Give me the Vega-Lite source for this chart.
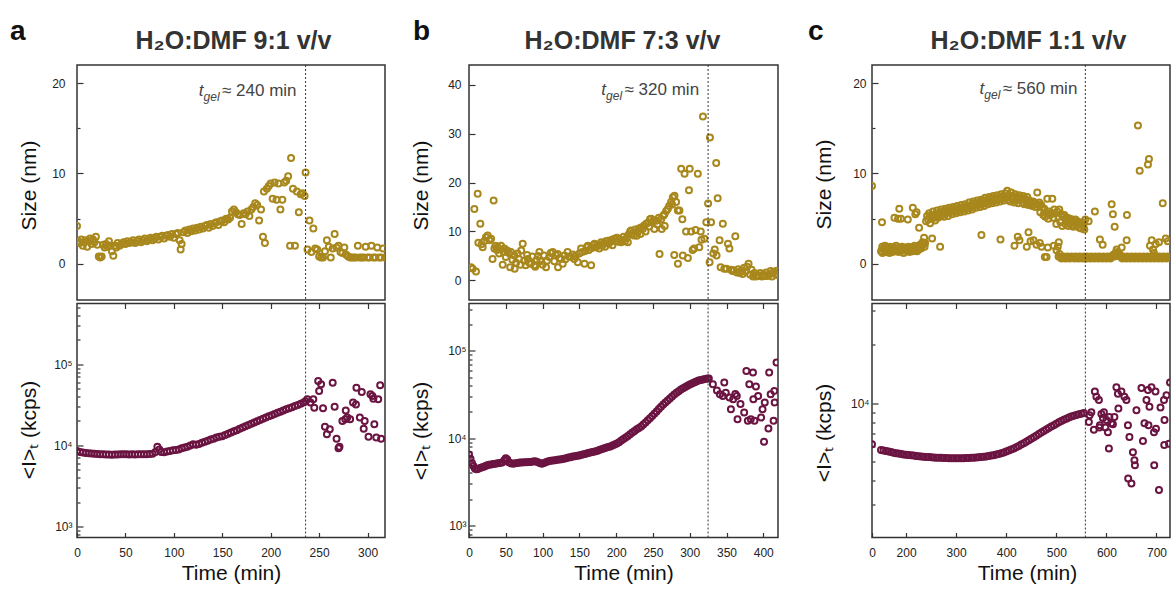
{
"$schema": "https://vega.github.io/schema/vega-lite/v6.json",
"padding": {"left": 9, "top": 17, "right": 0, "bottom": 0},
"background": "white",
"datasets": {
"gel": [{"p":"a","t":236,"s":18.6,"lab":"≈ 240 min"},{"p":"b","t":325,"s":37.8,"lab":"≈ 320 min"},{"p":"c","t":558,"s":18.8,"lab":"≈ 560 min"}],
"aSize": [{"t":0,"s":4.2},{"t":1.5,"s":2.5},{"t":3,"s":2.3},{"t":4.5,"s":2.7},{"t":6,"s":2.0},{"t":7.5,"s":2.4},{"t":9,"s":2.6},{"t":10.5,"s":1.9},{"t":12,"s":2.5},{"t":13.5,"s":2.8},{"t":15,"s":2.2},{"t":16.5,"s":2.7},{"t":18,"s":2.4},{"t":19.5,"s":3.0},{"t":21,"s":2.1},{"t":22.5,"s":0.8},{"t":24,"s":0.7},{"t":25.5,"s":0.8},{"t":27,"s":2.1},{"t":28.5,"s":1.8},{"t":30,"s":2.2},{"t":31.5,"s":1.9},{"t":33,"s":2.5},{"t":34.5,"s":2.0},{"t":36,"s":1.4},{"t":37.5,"s":0.9},{"t":39,"s":2.0},{"t":40.5,"s":1.8},{"t":42,"s":2.3},{"t":44,"s":2.0},{"t":46,"s":2.2},{"t":48,"s":2.4},{"t":50,"s":2.2},{"t":52,"s":2.5},{"t":54,"s":2.3},{"t":56,"s":2.4},{"t":58,"s":2.6},{"t":60,"s":2.3},{"t":62,"s":2.5},{"t":64,"s":2.7},{"t":66,"s":2.4},{"t":68,"s":2.6},{"t":70,"s":2.8},{"t":72,"s":2.5},{"t":74,"s":2.7},{"t":76,"s":2.9},{"t":78,"s":2.6},{"t":80,"s":2.8},{"t":82,"s":3.0},{"t":84,"s":2.7},{"t":86,"s":3.0},{"t":88,"s":3.1},{"t":90,"s":2.8},{"t":92,"s":3.1},{"t":94,"s":3.2},{"t":96,"s":3.0},{"t":98,"s":3.3},{"t":100,"s":2.9},{"t":102,"s":3.3},{"t":104,"s":3.4},{"t":106,"s":2.6},{"t":107,"s":1.6},{"t":108,"s":2.2},{"t":110,"s":3.5},{"t":112,"s":3.7},{"t":114,"s":3.4},{"t":116,"s":3.8},{"t":118,"s":3.6},{"t":120,"s":3.9},{"t":122,"s":3.7},{"t":124,"s":4.0},{"t":126,"s":3.8},{"t":128,"s":4.1},{"t":130,"s":3.9},{"t":132,"s":4.2},{"t":134,"s":4.3},{"t":136,"s":4.0},{"t":138,"s":4.4},{"t":140,"s":4.2},{"t":142,"s":4.5},{"t":144,"s":4.6},{"t":146,"s":4.3},{"t":148,"s":4.7},{"t":150,"s":4.8},{"t":152,"s":4.6},{"t":154,"s":5.0},{"t":156,"s":4.9},{"t":158,"s":5.1},{"t":160,"s":5.8},{"t":162,"s":6.0},{"t":164,"s":5.7},{"t":166,"s":5.5},{"t":168,"s":5.4},{"t":170,"s":4.4},{"t":172,"s":5.6},{"t":174,"s":5.5},{"t":176,"s":5.8},{"t":178,"s":5.3},{"t":180,"s":6.0},{"t":182,"s":6.3},{"t":184,"s":6.7},{"t":186,"s":6.5},{"t":188,"s":4.8},{"t":190,"s":6.0},{"t":192,"s":3.0},{"t":193,"s":8.0},{"t":194,"s":2.3},{"t":196,"s":8.3},{"t":198,"s":8.6},{"t":200,"s":8.9},{"t":202,"s":7.2},{"t":204,"s":9.0},{"t":206,"s":7.1},{"t":208,"s":8.9},{"t":210,"s":6.0},{"t":212,"s":7.1},{"t":214,"s":9.0},{"t":216,"s":9.2},{"t":218,"s":9.7},{"t":220,"s":2.0},{"t":221,"s":11.7},{"t":223,"s":8.3},{"t":225,"s":2.0},{"t":227,"s":8.0},{"t":229,"s":5.7},{"t":231,"s":7.7},{"t":233,"s":7.8},{"t":235,"s":7.5},{"t":236,"s":10.1},{"t":238,"s":1.6},{"t":240,"s":4.8},{"t":242,"s":1.3},{"t":244,"s":3.9},{"t":246,"s":1.7},{"t":248,"s":1.6},{"t":250,"s":0.8},{"t":252,"s":0.7},{"t":254,"s":0.7},{"t":256,"s":1.4},{"t":258,"s":2.6},{"t":260,"s":1.9},{"t":262,"s":0.7},{"t":264,"s":1.7},{"t":266,"s":3.3},{"t":268,"s":1.8},{"t":270,"s":2.0},{"t":272,"s":1.3},{"t":274,"s":1.2},{"t":276,"s":1.8},{"t":278,"s":1.0},{"t":280,"s":0.8},{"t":282,"s":0.7},{"t":284,"s":0.7},{"t":286,"s":0.7},{"t":288,"s":0.7},{"t":290,"s":2.0},{"t":292,"s":0.7},{"t":294,"s":0.7},{"t":296,"s":0.7},{"t":298,"s":1.9},{"t":300,"s":0.7},{"t":302,"s":0.7},{"t":304,"s":2.0},{"t":306,"s":0.7},{"t":308,"s":0.7},{"t":310,"s":1.8},{"t":312,"s":0.7},{"t":314,"s":0.7},{"t":316,"s":1.7},{"t":318,"s":0.7}],
"aInt": [{"t":0,"i":8500},{"t":3,"i":8300},{"t":6,"i":8150},{"t":9,"i":8050},{"t":12,"i":8000},{"t":15,"i":7950},{"t":18,"i":7900},{"t":21,"i":7850},{"t":24,"i":7800},{"t":27,"i":7750},{"t":30,"i":7700},{"t":33,"i":7700},{"t":36,"i":7650},{"t":39,"i":7700},{"t":42,"i":7700},{"t":45,"i":7750},{"t":48,"i":7800},{"t":51,"i":7750},{"t":54,"i":7700},{"t":57,"i":7750},{"t":60,"i":7700},{"t":63,"i":7750},{"t":66,"i":7800},{"t":69,"i":7750},{"t":72,"i":7800},{"t":75,"i":7850},{"t":78,"i":7900},{"t":81,"i":8300},{"t":83,"i":9600},{"t":85,"i":8900},{"t":87,"i":8300},{"t":90,"i":8200},{"t":93,"i":8400},{"t":96,"i":8500},{"t":99,"i":8700},{"t":102,"i":8800},{"t":105,"i":8900},{"t":108,"i":9200},{"t":111,"i":9400},{"t":114,"i":9600},{"t":117,"i":10000},{"t":120,"i":10300},{"t":123,"i":10200},{"t":126,"i":10400},{"t":129,"i":10800},{"t":132,"i":11100},{"t":135,"i":11400},{"t":138,"i":11800},{"t":141,"i":12100},{"t":144,"i":12500},{"t":147,"i":12800},{"t":150,"i":13000},{"t":153,"i":13400},{"t":156,"i":13900},{"t":159,"i":14400},{"t":162,"i":14900},{"t":165,"i":15400},{"t":168,"i":16000},{"t":171,"i":16600},{"t":174,"i":17200},{"t":177,"i":17800},{"t":180,"i":18500},{"t":183,"i":19200},{"t":186,"i":19900},{"t":189,"i":20600},{"t":192,"i":21300},{"t":195,"i":22000},{"t":198,"i":22800},{"t":201,"i":23600},{"t":204,"i":24400},{"t":207,"i":25200},{"t":210,"i":26000},{"t":213,"i":26900},{"t":216,"i":27800},{"t":219,"i":28700},{"t":222,"i":29600},{"t":225,"i":30500},{"t":228,"i":31500},{"t":231,"i":32500},{"t":234,"i":33800},{"t":236,"i":35000},{"t":237.8,"i":37000},{"t":241,"i":33700},{"t":244,"i":37000},{"t":245,"i":29200},{"t":249,"i":62200},{"t":252,"i":56600},{"t":250,"i":46800},{"t":254,"i":28600},{"t":256,"i":17000},{"t":258,"i":13700},{"t":261,"i":15800},{"t":264,"i":59400},{"t":266,"i":30000},{"t":268,"i":12100},{"t":270,"i":9200},{"t":271,"i":9600},{"t":274,"i":20000},{"t":277,"i":21000},{"t":277.5,"i":27000},{"t":279,"i":22000},{"t":282,"i":21000},{"t":285,"i":33700},{"t":288,"i":32000},{"t":288.5,"i":51500},{"t":292,"i":22000},{"t":294,"i":45500},{"t":296,"i":16000},{"t":297,"i":20000},{"t":301,"i":12800},{"t":303,"i":42600},{"t":305,"i":40600},{"t":306,"i":37700},{"t":307,"i":18200},{"t":309,"i":12500},{"t":311,"i":37000},{"t":313,"i":55000},{"t":314,"i":12100}],
"bSize": [{"t":2.7,"s":2.7},{"t":5,"s":2.4},{"t":7.3,"s":14.6},{"t":9.5,"s":1.8},{"t":11.8,"s":17.7},{"t":12.7,"s":7.7},{"t":15.4,"s":11.6},{"t":17,"s":7.4},{"t":18.6,"s":6.8},{"t":20.5,"s":8.0},{"t":23,"s":8.8},{"t":25.4,"s":9.2},{"t":27.7,"s":8.2},{"t":30,"s":8.5},{"t":32,"s":4.4},{"t":33.5,"s":16.3},{"t":34.5,"s":6.5},{"t":36,"s":7.1},{"t":38,"s":6.2},{"t":39,"s":6.8},{"t":41,"s":5.5},{"t":43.5,"s":7.1},{"t":45.8,"s":3.2},{"t":47,"s":5.8},{"t":48,"s":6.5},{"t":50,"s":4.8},{"t":52,"s":6.1},{"t":54,"s":5.6},{"t":56,"s":2.7},{"t":57,"s":5.8},{"t":59,"s":4.2},{"t":61.6,"s":5.1},{"t":62,"s":2.4},{"t":64,"s":3.6},{"t":66,"s":5.5},{"t":68,"s":4.4},{"t":70,"s":3.2},{"t":71,"s":6.1},{"t":73,"s":7.5},{"t":75,"s":4.0},{"t":77,"s":3.1},{"t":79,"s":5.2},{"t":80,"s":4.4},{"t":82,"s":3.6},{"t":84,"s":3.4},{"t":86,"s":4.9},{"t":88.8,"s":3.1},{"t":90,"s":2.8},{"t":92,"s":4.2},{"t":94,"s":5.0},{"t":95.7,"s":5.8},{"t":97,"s":3.9},{"t":100,"s":3.2},{"t":102,"s":5.1},{"t":104.7,"s":2.7},{"t":106,"s":4.0},{"t":109,"s":4.8},{"t":111,"s":5.6},{"t":113.8,"s":5.8},{"t":116,"s":3.9},{"t":118,"s":5.2},{"t":120.6,"s":5.4},{"t":121,"s":2.7},{"t":123,"s":4.6},{"t":125,"s":4.4},{"t":127.4,"s":3.4},{"t":129.7,"s":5.1},{"t":131,"s":4.3},{"t":134,"s":5.8},{"t":136,"s":4.9},{"t":138.8,"s":4.8},{"t":141,"s":5.3},{"t":143,"s":4.4},{"t":145,"s":5.0},{"t":147.8,"s":3.7},{"t":150,"s":5.5},{"t":152.4,"s":6.5},{"t":154,"s":5.8},{"t":157,"s":3.4},{"t":158,"s":6.0},{"t":160,"s":6.8},{"t":161.5,"s":7.1},{"t":163,"s":6.2},{"t":166,"s":3.1},{"t":167,"s":6.6},{"t":169,"s":7.2},{"t":170.6,"s":7.5},{"t":172,"s":6.8},{"t":174,"s":7.0},{"t":176,"s":7.3},{"t":177,"s":6.5},{"t":179.6,"s":7.8},{"t":181,"s":7.1},{"t":183,"s":7.6},{"t":185,"s":6.9},{"t":186,"s":8.0},{"t":188.7,"s":8.1},{"t":190,"s":7.5},{"t":192,"s":7.9},{"t":194,"s":8.3},{"t":195,"s":7.2},{"t":197.7,"s":8.5},{"t":199,"s":8.0},{"t":201,"s":8.7},{"t":203,"s":7.9},{"t":205,"s":8.4},{"t":206.8,"s":7.8},{"t":208,"s":8.2},{"t":210,"s":8.9},{"t":212,"s":8.0},{"t":214,"s":8.6},{"t":215.9,"s":7.8},{"t":217,"s":9.4},{"t":219,"s":10.0},{"t":220.4,"s":10.2},{"t":222,"s":9.6},{"t":224,"s":9.2},{"t":226,"s":10.4},{"t":228,"s":9.1},{"t":229.5,"s":9.9},{"t":231,"s":10.6},{"t":233,"s":9.5},{"t":234,"s":10.8},{"t":236.3,"s":10.5},{"t":238,"s":11.2},{"t":240,"s":10.0},{"t":241,"s":11.6},{"t":243,"s":11.8},{"t":245,"s":11.0},{"t":246,"s":12.5},{"t":247.6,"s":12.6},{"t":249,"s":11.9},{"t":251,"s":12.3},{"t":252,"s":10.5},{"t":254.4,"s":12.2},{"t":256,"s":11.4},{"t":258,"s":12.8},{"t":259,"s":5.4},{"t":261.2,"s":12.5},{"t":262,"s":10.5},{"t":264,"s":13.2},{"t":265.7,"s":13.5},{"t":266,"s":11.1},{"t":268,"s":14.2},{"t":270.2,"s":14.6},{"t":272,"s":15.2},{"t":274.7,"s":16.0},{"t":276,"s":15.5},{"t":277,"s":17.0},{"t":279.3,"s":17.3},{"t":279,"s":5.2},{"t":281.5,"s":16.0},{"t":283.8,"s":14.3},{"t":284,"s":3.4},{"t":286,"s":14.3},{"t":288.4,"s":22.8},{"t":290,"s":12.5},{"t":290.6,"s":5.1},{"t":293,"s":21.8},{"t":295,"s":10.0},{"t":297.5,"s":4.6},{"t":299,"s":18.4},{"t":300,"s":22.8},{"t":302,"s":10.0},{"t":304,"s":6.2},{"t":306,"s":6.5},{"t":308,"s":10.3},{"t":311,"s":21.8},{"t":313,"s":6.8},{"t":315,"s":10.0},{"t":316,"s":8.3},{"t":318,"s":33.5},{"t":320,"s":8.5},{"t":322.5,"s":11.9},{"t":325,"s":15.7},{"t":327,"s":3.7},{"t":327.5,"s":29.2},{"t":329,"s":11.9},{"t":332,"s":5.5},{"t":334,"s":6.3},{"t":336,"s":24.0},{"t":336.5,"s":5.1},{"t":338,"s":16.8},{"t":340.6,"s":8.2},{"t":342,"s":2.7},{"t":345,"s":11.6},{"t":347,"s":2.4},{"t":350,"s":2.4},{"t":352,"s":7.5},{"t":354,"s":6.5},{"t":356,"s":2.2},{"t":358,"s":1.9},{"t":360,"s":2.1},{"t":362,"s":9.0},{"t":364,"s":1.6},{"t":366,"s":2.3},{"t":368,"s":1.5},{"t":370,"s":2.0},{"t":372,"s":1.3},{"t":374,"s":2.6},{"t":376,"s":1.8},{"t":378,"s":2.8},{"t":380,"s":3.4},{"t":382,"s":1.2},{"t":384,"s":2.2},{"t":386,"s":0.8},{"t":388,"s":1.5},{"t":390,"s":0.8},{"t":392,"s":1.1},{"t":394,"s":0.9},{"t":396,"s":1.5},{"t":398,"s":0.8},{"t":400,"s":1.2},{"t":402,"s":0.9},{"t":404,"s":1.6},{"t":406,"s":0.9},{"t":408,"s":1.2},{"t":410,"s":1.9},{"t":412,"s":0.8},{"t":414,"s":1.7},{"t":416,"s":1.3},{"t":418,"s":2.0},{"t":419,"s":1.1}],
"bInt": [{"t":0,"i":6500},{"t":2,"i":5800},{"t":4,"i":5200},{"t":6,"i":4800},{"t":8,"i":4500},{"t":10,"i":4400},{"t":12,"i":4450},{"t":15,"i":4550},{"t":18,"i":4650},{"t":21,"i":4750},{"t":24,"i":4850},{"t":27,"i":4950},{"t":30,"i":5000},{"t":33,"i":5050},{"t":36,"i":5100},{"t":39,"i":5150},{"t":42,"i":5200},{"t":45,"i":5250},{"t":48,"i":5600},{"t":50,"i":5900},{"t":52,"i":5700},{"t":54,"i":5300},{"t":57,"i":5150},{"t":60,"i":5100},{"t":63,"i":5150},{"t":66,"i":5200},{"t":69,"i":5250},{"t":72,"i":5250},{"t":75,"i":5300},{"t":78,"i":5300},{"t":81,"i":5350},{"t":84,"i":5350},{"t":87,"i":5400},{"t":90,"i":5450},{"t":93,"i":5350},{"t":96,"i":5200},{"t":99,"i":5100},{"t":102,"i":5200},{"t":105,"i":5350},{"t":108,"i":5450},{"t":111,"i":5500},{"t":114,"i":5550},{"t":117,"i":5600},{"t":120,"i":5650},{"t":123,"i":5700},{"t":126,"i":5750},{"t":129,"i":5800},{"t":132,"i":5900},{"t":135,"i":6000},{"t":138,"i":6050},{"t":141,"i":6150},{"t":144,"i":6200},{"t":147,"i":6300},{"t":150,"i":6350},{"t":153,"i":6450},{"t":156,"i":6550},{"t":159,"i":6650},{"t":162,"i":6750},{"t":165,"i":6850},{"t":168,"i":6950},{"t":171,"i":7050},{"t":174,"i":7150},{"t":177,"i":7300},{"t":180,"i":7450},{"t":183,"i":7600},{"t":186,"i":7750},{"t":189,"i":7900},{"t":192,"i":8050},{"t":195,"i":8250},{"t":198,"i":8450},{"t":201,"i":8700},{"t":204,"i":9000},{"t":207,"i":9400},{"t":210,"i":9800},{"t":213,"i":10200},{"t":216,"i":10600},{"t":219,"i":11100},{"t":222,"i":11600},{"t":225,"i":12100},{"t":228,"i":12600},{"t":231,"i":13100},{"t":234,"i":13600},{"t":237,"i":14300},{"t":240,"i":15100},{"t":243,"i":16000},{"t":246,"i":16900},{"t":249,"i":17900},{"t":252,"i":19000},{"t":255,"i":20200},{"t":258,"i":21500},{"t":261,"i":22800},{"t":264,"i":24200},{"t":267,"i":25600},{"t":270,"i":27000},{"t":273,"i":28500},{"t":276,"i":30000},{"t":279,"i":31500},{"t":282,"i":33000},{"t":285,"i":34500},{"t":288,"i":35900},{"t":291,"i":37200},{"t":294,"i":38500},{"t":297,"i":39800},{"t":300,"i":41000},{"t":303,"i":42200},{"t":306,"i":43400},{"t":309,"i":44500},{"t":312,"i":45500},{"t":315,"i":46300},{"t":318,"i":47000},{"t":321,"i":47600},{"t":324,"i":48000},{"t":326,"i":48200},{"t":331.5,"i":41400},{"t":337,"i":35000},{"t":341,"i":31800},{"t":347,"i":43300},{"t":349,"i":33000},{"t":345,"i":30400},{"t":354,"i":29200},{"t":356,"i":21400},{"t":359,"i":27900},{"t":362,"i":32000},{"t":364,"i":30400},{"t":369,"i":24500},{"t":365,"i":16500},{"t":374,"i":19700},{"t":377,"i":58700},{"t":386,"i":56300},{"t":381,"i":41400},{"t":383,"i":16500},{"t":386.5,"i":27900},{"t":390,"i":39000},{"t":393,"i":30400},{"t":397,"i":17200},{"t":399,"i":21400},{"t":402,"i":25600},{"t":407,"i":12900},{"t":401,"i":9100},{"t":408,"i":56300},{"t":410,"i":31800},{"t":415,"i":34700},{"t":415.5,"i":25600},{"t":418,"i":73300},{"t":414,"i":15800},{"t":388,"i":15800},{"t":379,"i":15800}],
"cSize": [{"t":0,"s":8.6},{"t":152,"s":4.6},{"t":150,"s":1.4},{"t":152.5,"s":1.9},{"t":153,"s":1.2},{"t":155,"s":1.7},{"t":157,"s":1.5},{"t":158,"s":2.0},{"t":160,"s":1.3},{"t":162,"s":1.8},{"t":163,"s":1.5},{"t":165,"s":1.6},{"t":167,"s":1.2},{"t":168,"s":1.9},{"t":170,"s":1.5},{"t":172,"s":1.7},{"t":173,"s":1.3},{"t":175,"s":1.8},{"t":177,"s":1.6},{"t":178,"s":1.4},{"t":180,"s":2.0},{"t":182,"s":1.5},{"t":183,"s":1.7},{"t":185,"s":1.3},{"t":187,"s":1.8},{"t":188,"s":1.6},{"t":190,"s":1.4},{"t":192,"s":1.9},{"t":193,"s":1.6},{"t":195,"s":1.2},{"t":197,"s":1.7},{"t":198,"s":1.5},{"t":200,"s":1.8},{"t":202,"s":1.4},{"t":203,"s":1.6},{"t":205,"s":1.9},{"t":207,"s":1.3},{"t":208,"s":1.7},{"t":210,"s":1.5},{"t":212,"s":1.8},{"t":213,"s":1.4},{"t":215,"s":1.6},{"t":217,"s":2.0},{"t":218,"s":1.5},{"t":220,"s":1.7},{"t":222,"s":1.4},{"t":223,"s":1.9},{"t":225,"s":1.6},{"t":227,"s":1.8},{"t":228,"s":2.1},{"t":230,"s":1.7},{"t":232,"s":2.0},{"t":233,"s":2.4},{"t":235,"s":2.2},{"t":237,"s":1.9},{"t":238,"s":2.3},{"t":176.8,"s":5.1},{"t":186.5,"s":6.1},{"t":189.6,"s":5.0},{"t":184,"s":5.0},{"t":203.5,"s":4.9},{"t":213.5,"s":6.2},{"t":218.5,"s":5.5},{"t":221,"s":5.7},{"t":226,"s":4.0},{"t":236,"s":2.9},{"t":252,"s":2.8},{"t":268,"s":1.9},{"t":240,"s":4.7},{"t":242,"s":5.3},{"t":244,"s":4.9},{"t":246,"s":5.6},{"t":248,"s":4.5},{"t":250,"s":5.4},{"t":252.5,"s":5.0},{"t":254,"s":5.8},{"t":256,"s":5.2},{"t":258,"s":4.8},{"t":260,"s":5.5},{"t":262,"s":5.9},{"t":264,"s":5.1},{"t":266,"s":5.6},{"t":268.5,"s":5.3},{"t":270,"s":6.0},{"t":272,"s":5.4},{"t":274,"s":5.8},{"t":276,"s":5.2},{"t":278,"s":6.1},{"t":280,"s":5.6},{"t":282,"s":5.9},{"t":284,"s":5.3},{"t":286,"s":6.2},{"t":288,"s":5.7},{"t":290,"s":6.0},{"t":292,"s":5.5},{"t":294,"s":6.3},{"t":296,"s":5.8},{"t":298,"s":6.1},{"t":300,"s":5.6},{"t":302,"s":6.4},{"t":304,"s":5.9},{"t":306,"s":6.2},{"t":308,"s":5.7},{"t":310,"s":6.5},{"t":312,"s":6.0},{"t":314,"s":6.3},{"t":316,"s":5.8},{"t":318,"s":6.6},{"t":320,"s":6.1},{"t":322,"s":6.4},{"t":324,"s":5.9},{"t":326,"s":6.8},{"t":328,"s":6.2},{"t":330,"s":6.5},{"t":332,"s":6.0},{"t":334,"s":6.9},{"t":336,"s":6.4},{"t":338,"s":6.7},{"t":340,"s":6.2},{"t":342,"s":7.0},{"t":344,"s":6.5},{"t":346,"s":6.8},{"t":348,"s":6.3},{"t":350,"s":7.1},{"t":352,"s":6.6},{"t":354,"s":7.0},{"t":356,"s":6.4},{"t":358,"s":7.3},{"t":360,"s":6.8},{"t":362,"s":7.1},{"t":364,"s":6.6},{"t":366,"s":7.4},{"t":368,"s":6.9},{"t":370,"s":7.2},{"t":372,"s":6.7},{"t":374,"s":7.5},{"t":376,"s":7.0},{"t":378,"s":7.3},{"t":380,"s":6.8},{"t":382,"s":7.6},{"t":384,"s":7.1},{"t":386,"s":7.4},{"t":388,"s":6.9},{"t":390,"s":7.7},{"t":392,"s":7.2},{"t":394,"s":7.5},{"t":396,"s":7.0},{"t":398,"s":7.8},{"t":400,"s":7.3},{"t":402,"s":8.1},{"t":404,"s":7.1},{"t":406,"s":7.6},{"t":408,"s":6.9},{"t":410,"s":7.9},{"t":412,"s":7.2},{"t":414,"s":7.5},{"t":416,"s":6.8},{"t":418,"s":7.7},{"t":420,"s":7.0},{"t":422,"s":7.4},{"t":424,"s":6.7},{"t":426,"s":7.6},{"t":428,"s":7.1},{"t":430,"s":7.3},{"t":432,"s":6.8},{"t":434,"s":7.5},{"t":436,"s":6.6},{"t":438,"s":7.2},{"t":440,"s":6.9},{"t":442,"s":7.4},{"t":444,"s":6.5},{"t":446,"s":7.0},{"t":448,"s":6.6},{"t":450,"s":6.8},{"t":452,"s":6.4},{"t":454,"s":6.9},{"t":456,"s":6.6},{"t":458,"s":6.3},{"t":460,"s":6.7},{"t":462,"s":7.9},{"t":464,"s":6.5},{"t":466,"s":6.8},{"t":468,"s":5.7},{"t":470,"s":6.5},{"t":472,"s":6.2},{"t":474,"s":5.4},{"t":476,"s":6.1},{"t":478,"s":5.2},{"t":480,"s":5.6},{"t":482,"s":7.2},{"t":484,"s":5.0},{"t":486,"s":5.8},{"t":488,"s":5.4},{"t":490,"s":5.6},{"t":492,"s":7.2},{"t":494,"s":5.1},{"t":496,"s":6.0},{"t":498,"s":5.6},{"t":500,"s":4.4},{"t":502,"s":5.8},{"t":504,"s":5.2},{"t":506,"s":6.0},{"t":508,"s":4.6},{"t":510,"s":5.5},{"t":512,"s":4.2},{"t":514,"s":5.2},{"t":516,"s":5.4},{"t":518,"s":4.4},{"t":520,"s":4.8},{"t":522,"s":5.1},{"t":524,"s":4.2},{"t":526,"s":4.6},{"t":528,"s":5.0},{"t":530,"s":4.3},{"t":532,"s":4.8},{"t":534,"s":4.1},{"t":536,"s":4.6},{"t":538,"s":4.9},{"t":540,"s":4.2},{"t":542,"s":4.7},{"t":544,"s":4.5},{"t":546,"s":4.0},{"t":548,"s":4.4},{"t":550,"s":3.9},{"t":552,"s":4.6},{"t":554,"s":4.2},{"t":556,"s":3.8},{"t":558,"s":4.9},{"t":350.5,"s":3.2},{"t":388.5,"s":2.7},{"t":416.5,"s":2.0},{"t":423,"s":3.0},{"t":426.5,"s":2.6},{"t":444.5,"s":3.5},{"t":448.5,"s":2.5},{"t":441,"s":1.9},{"t":454.5,"s":2.6},{"t":467,"s":2.3},{"t":483,"s":1.8},{"t":477,"s":0.75},{"t":480.5,"s":0.75},{"t":500.5,"s":1.5},{"t":505,"s":2.4},{"t":503,"s":1.9},{"t":495,"s":2.0},{"t":470.5,"s":1.9},{"t":460.5,"s":2.1},{"t":504.5,"s":0.8},{"t":506.5,"s":1.1},{"t":508.5,"s":0.7},{"t":510.5,"s":0.6},{"t":512.5,"s":0.7},{"t":514.5,"s":0.8},{"t":516.5,"s":0.7},{"t":518.5,"s":0.6},{"t":520.5,"s":0.7},{"t":522.5,"s":0.8},{"t":524.5,"s":0.7},{"t":526.5,"s":0.6},{"t":528.5,"s":0.7},{"t":530.5,"s":0.8},{"t":532.5,"s":0.7},{"t":534.5,"s":0.7},{"t":536.5,"s":0.6},{"t":538.5,"s":0.8},{"t":540.5,"s":0.7},{"t":542.5,"s":0.7},{"t":544.5,"s":0.6},{"t":546.5,"s":0.8},{"t":548.5,"s":0.7},{"t":550.5,"s":0.7},{"t":552.5,"s":0.6},{"t":554.5,"s":0.8},{"t":556.5,"s":0.7},{"t":558.5,"s":0.7},{"t":560,"s":0.6},{"t":562,"s":0.8},{"t":564,"s":0.7},{"t":566,"s":0.7},{"t":568,"s":0.6},{"t":570,"s":0.8},{"t":572,"s":0.7},{"t":574,"s":0.7},{"t":576,"s":0.6},{"t":578,"s":0.8},{"t":580,"s":0.7},{"t":582,"s":0.7},{"t":584,"s":0.6},{"t":586,"s":0.8},{"t":588,"s":0.7},{"t":590,"s":0.7},{"t":592,"s":0.6},{"t":594,"s":0.8},{"t":596,"s":0.7},{"t":598,"s":0.7},{"t":600,"s":0.6},{"t":602,"s":0.8},{"t":604,"s":0.7},{"t":606,"s":0.7},{"t":608,"s":0.6},{"t":610,"s":0.8},{"t":612,"s":0.9},{"t":614,"s":1.0},{"t":616,"s":0.8},{"t":618,"s":1.2},{"t":620,"s":1.0},{"t":622,"s":1.3},{"t":624,"s":0.9},{"t":626,"s":1.1},{"t":628,"s":0.8},{"t":630,"s":0.7},{"t":632,"s":0.6},{"t":634,"s":0.8},{"t":636,"s":0.7},{"t":638,"s":0.7},{"t":640,"s":0.6},{"t":642,"s":0.8},{"t":644,"s":0.7},{"t":646,"s":0.7},{"t":648,"s":0.6},{"t":650,"s":0.8},{"t":652,"s":0.7},{"t":654,"s":0.7},{"t":656,"s":0.6},{"t":658,"s":0.8},{"t":660,"s":0.7},{"t":662,"s":0.7},{"t":664,"s":0.6},{"t":666,"s":0.8},{"t":668,"s":0.7},{"t":670,"s":0.7},{"t":672,"s":0.6},{"t":674,"s":0.8},{"t":676,"s":0.7},{"t":678,"s":0.7},{"t":680,"s":0.6},{"t":682,"s":0.8},{"t":684,"s":0.7},{"t":686,"s":0.7},{"t":688,"s":0.6},{"t":690,"s":0.8},{"t":692,"s":0.7},{"t":694,"s":0.7},{"t":696,"s":0.6},{"t":698,"s":0.8},{"t":700,"s":0.7},{"t":702,"s":0.7},{"t":704,"s":0.6},{"t":706,"s":0.8},{"t":708,"s":0.7},{"t":710,"s":0.7},{"t":712,"s":0.6},{"t":714,"s":0.8},{"t":716,"s":0.7},{"t":718,"s":0.7},{"t":720,"s":0.6},{"t":722,"s":0.8},{"t":724,"s":0.7},{"t":726,"s":0.7},{"t":564.5,"s":4.7},{"t":577,"s":5.8},{"t":587,"s":2.7},{"t":592.5,"s":2.1},{"t":610.5,"s":6.6},{"t":613,"s":5.5},{"t":616.5,"s":4.1},{"t":641,"s":5.4},{"t":640.5,"s":2.6},{"t":620.5,"s":1.6},{"t":630.5,"s":1.8},{"t":663,"s":15.3},{"t":666.5,"s":10.3},{"t":683,"s":11.0},{"t":685,"s":11.6},{"t":712.5,"s":6.7},{"t":687,"s":2.0},{"t":690.5,"s":2.6},{"t":693,"s":1.6},{"t":698.5,"s":2.2},{"t":705,"s":2.4},{"t":718.5,"s":2.8},{"t":722.5,"s":2.5},{"t":695,"s":1.2}],
"cInt": [{"t":0,"i":6160},{"t":150,"i":5750},{"t":155,"i":5720},{"t":160,"i":5680},{"t":165,"i":5650},{"t":170,"i":5610},{"t":175,"i":5570},{"t":180,"i":5540},{"t":185,"i":5510},{"t":190,"i":5480},{"t":195,"i":5450},{"t":200,"i":5430},{"t":205,"i":5420},{"t":210,"i":5400},{"t":215,"i":5380},{"t":220,"i":5360},{"t":225,"i":5340},{"t":230,"i":5330},{"t":235,"i":5310},{"t":240,"i":5300},{"t":245,"i":5290},{"t":250,"i":5280},{"t":255,"i":5260},{"t":260,"i":5250},{"t":265,"i":5240},{"t":270,"i":5240},{"t":275,"i":5230},{"t":280,"i":5230},{"t":285,"i":5220},{"t":290,"i":5220},{"t":295,"i":5220},{"t":300,"i":5220},{"t":305,"i":5220},{"t":310,"i":5220},{"t":315,"i":5220},{"t":320,"i":5230},{"t":325,"i":5230},{"t":330,"i":5240},{"t":335,"i":5250},{"t":340,"i":5260},{"t":345,"i":5270},{"t":350,"i":5290},{"t":355,"i":5310},{"t":360,"i":5330},{"t":365,"i":5350},{"t":370,"i":5380},{"t":375,"i":5410},{"t":380,"i":5450},{"t":385,"i":5490},{"t":390,"i":5540},{"t":395,"i":5590},{"t":400,"i":5650},{"t":405,"i":5710},{"t":410,"i":5780},{"t":415,"i":5860},{"t":420,"i":5940},{"t":425,"i":6030},{"t":430,"i":6130},{"t":435,"i":6230},{"t":440,"i":6340},{"t":445,"i":6450},{"t":450,"i":6570},{"t":455,"i":6690},{"t":460,"i":6810},{"t":465,"i":6940},{"t":470,"i":7070},{"t":475,"i":7200},{"t":480,"i":7330},{"t":485,"i":7460},{"t":490,"i":7590},{"t":495,"i":7720},{"t":500,"i":7850},{"t":505,"i":7980},{"t":510,"i":8100},{"t":515,"i":8220},{"t":520,"i":8330},{"t":525,"i":8440},{"t":530,"i":8540},{"t":535,"i":8630},{"t":540,"i":8710},{"t":545,"i":8780},{"t":550,"i":8840},{"t":555,"i":8900},{"t":566.5,"i":8670},{"t":565,"i":8000},{"t":577,"i":11500},{"t":580,"i":10800},{"t":585,"i":10400},{"t":590,"i":8800},{"t":587,"i":7700},{"t":593,"i":8400},{"t":600,"i":8200},{"t":606,"i":8500},{"t":586,"i":7500},{"t":598,"i":7500},{"t":603,"i":7100},{"t":605,"i":5860},{"t":620,"i":12100},{"t":623,"i":11200},{"t":630,"i":11500},{"t":636,"i":10800},{"t":640,"i":10400},{"t":624,"i":9400},{"t":616,"i":8500},{"t":613,"i":7800},{"t":643,"i":7700},{"t":646,"i":6700},{"t":653,"i":5600},{"t":656,"i":5100},{"t":657,"i":4800},{"t":643.5,"i":4100},{"t":650,"i":3870},{"t":660,"i":9200},{"t":670,"i":12000},{"t":683,"i":11700},{"t":690,"i":12100},{"t":698,"i":11500},{"t":673,"i":6400},{"t":676,"i":7900},{"t":684,"i":7700},{"t":680,"i":10400},{"t":686,"i":9600},{"t":695,"i":7100},{"t":699,"i":7400},{"t":695.5,"i":4800},{"t":705,"i":3580},{"t":708,"i":9500},{"t":715,"i":10400},{"t":720,"i":11000},{"t":715.5,"i":6100},{"t":725,"i":6200},{"t":716,"i":8200},{"t":727,"i":12800},{"t":570,"i":9000},{"t":575,"i":7300},{"t":595,"i":9000},{"t":610,"i":7900}]
},
"vconcat": [
{
"spacing": 84, "bounds": "flush",
"hconcat": [
{
"width": 308, "height": 235,
"title": {"text": "a", "anchor": "start", "frame": "group", "dx": -67, "offset": -18, "fontSize": 28, "fontWeight": "bold", "color": "#111"},
"layer": [
{"data": {"name": "aSize"}, "mark": {"type": "point", "shape": "circle", "filled": false, "size": 36, "strokeWidth": 2, "color": "#A8871C", "opacity": 1, "clip": true},
 "encoding": {
  "x": {"field": "t", "type": "quantitative", "scale": {"domain": [0, 318], "nice": false, "zero": false}, "axis": {"orient": "top", "ticks": false, "labels": false, "title": "H₂O:DMF 9:1 v/v", "titleFontSize": 25, "titleFontWeight": "bold", "titleColor": "#333", "titleBaseline": "alphabetic", "titleY": -17, "titleX": 156}},
  "y": {"field": "s", "type": "quantitative", "scale": {"domain": [-4, 22], "nice": false, "zero": false},
        "axis": {"title": "Size (nm)", "values": [0, 5, 10, 15, 20], "labelExpr": "datum.value % 10 == 0 ? datum.label : ''", "tickSize": {"condition": {"test": "datum.value % 10 == 0", "value": -6}, "value": -3}, "labelPadding": 18, "titleX": -42, "titleY": 120, "titleBaseline": "alphabetic"}}}},
{"data": {"name": "gel"}, "transform": [{"filter": "datum.p == 'a'"}], "mark": {"type": "rule", "strokeDash": [2, 2], "color": "#333", "strokeWidth": 1}, "encoding": {"x": {"field": "t", "type": "quantitative"}}},
{"data": {"name": "gel"}, "transform": [{"filter": "datum.p == 'a'"}], "mark": {"type": "text", "align": "right", "baseline": "alphabetic", "dx": -9, "fontSize": 17, "color": "#444"}, "encoding": {"x": {"field": "t", "type": "quantitative"}, "y": {"field": "s", "type": "quantitative"}, "text": {"field": "lab"}}},
{"data": {"name": "gel"}, "transform": [{"filter": "datum.p == 'a'"}], "mark": {"type": "text", "align": "right", "baseline": "alphabetic", "dx": -86, "dy": 5, "fontSize": 12, "fontStyle": "italic", "color": "#444", "text": "gel"}, "encoding": {"x": {"field": "t", "type": "quantitative"}, "y": {"field": "s", "type": "quantitative"}}},
{"data": {"name": "gel"}, "transform": [{"filter": "datum.p == 'a'"}], "mark": {"type": "text", "align": "right", "baseline": "alphabetic", "dx": -102, "fontSize": 17, "fontStyle": "italic", "color": "#444", "text": "t"}, "encoding": {"x": {"field": "t", "type": "quantitative"}, "y": {"field": "s", "type": "quantitative"}}}
]
},
{
"spacing": 94, "bounds": "flush",
"hconcat": [
{
"width": 309, "height": 235,
"title": {"text": "b", "anchor": "start", "frame": "group", "dx": -56, "offset": -18, "fontSize": 28, "fontWeight": "bold", "color": "#111"},
"layer": [
{"data": {"name": "bSize"}, "mark": {"type": "point", "shape": "circle", "filled": false, "size": 36, "strokeWidth": 2, "color": "#A8871C", "opacity": 1, "clip": true},
 "encoding": {
  "x": {"field": "t", "type": "quantitative", "scale": {"domain": [0, 420], "nice": false, "zero": false}, "axis": {"orient": "top", "ticks": false, "labels": false, "title": "H₂O:DMF 7:3 v/v", "titleFontSize": 25, "titleFontWeight": "bold", "titleColor": "#333", "titleBaseline": "alphabetic", "titleY": -17, "titleX": 153}},
  "y": {"field": "s", "type": "quantitative", "scale": {"domain": [-4, 44], "nice": false, "zero": false},
        "axis": {"title": "Size (nm)", "values": [0, 5, 10, 15, 20, 25, 30, 35, 40], "labelExpr": "datum.value % 10 == 0 ? datum.label : ''", "tickSize": {"condition": {"test": "datum.value % 10 == 0", "value": -6}, "value": -3}, "labelPadding": 14, "titleX": -42, "titleY": 120, "titleBaseline": "alphabetic"}}}},
{"data": {"name": "gel"}, "transform": [{"filter": "datum.p == 'b'"}], "mark": {"type": "rule", "strokeDash": [2, 2], "color": "#333", "strokeWidth": 1}, "encoding": {"x": {"field": "t", "type": "quantitative"}}},
{"data": {"name": "gel"}, "transform": [{"filter": "datum.p == 'b'"}], "mark": {"type": "text", "align": "right", "baseline": "alphabetic", "dx": -9, "fontSize": 17, "color": "#444"}, "encoding": {"x": {"field": "t", "type": "quantitative"}, "y": {"field": "s", "type": "quantitative"}, "text": {"field": "lab"}}},
{"data": {"name": "gel"}, "transform": [{"filter": "datum.p == 'b'"}], "mark": {"type": "text", "align": "right", "baseline": "alphabetic", "dx": -86, "dy": 5, "fontSize": 12, "fontStyle": "italic", "color": "#444", "text": "gel"}, "encoding": {"x": {"field": "t", "type": "quantitative"}, "y": {"field": "s", "type": "quantitative"}}},
{"data": {"name": "gel"}, "transform": [{"filter": "datum.p == 'b'"}], "mark": {"type": "text", "align": "right", "baseline": "alphabetic", "dx": -102, "fontSize": 17, "fontStyle": "italic", "color": "#444", "text": "t"}, "encoding": {"x": {"field": "t", "type": "quantitative"}, "y": {"field": "s", "type": "quantitative"}}}
]
},
{
"width": 298, "height": 235,
"title": {"text": "c", "anchor": "start", "frame": "group", "dx": -64, "offset": -18, "fontSize": 28, "fontWeight": "bold", "color": "#111"},
"layer": [
{"data": {"name": "cSize"}, "mark": {"type": "point", "shape": "circle", "filled": false, "size": 36, "strokeWidth": 2, "color": "#A8871C", "opacity": 1, "clip": true},
 "encoding": {
  "x": {"field": "t", "type": "quantitative", "scale": {"domain": [0, 140, 727], "range": [0, 4, 298], "nice": false, "zero": false}, "axis": {"orient": "top", "ticks": false, "labels": false, "title": "H₂O:DMF 1:1 v/v", "titleFontSize": 25, "titleFontWeight": "bold", "titleColor": "#333", "titleBaseline": "alphabetic", "titleY": -17, "titleX": 156}},
  "y": {"field": "s", "type": "quantitative", "scale": {"domain": [-4, 22], "nice": false, "zero": false},
        "axis": {"title": "Size (nm)", "values": [0, 5, 10, 15, 20], "labelExpr": "datum.value % 10 == 0 ? datum.label : ''", "tickSize": {"condition": {"test": "datum.value % 10 == 0", "value": -6}, "value": -3}, "labelPadding": 12, "titleX": -42, "titleY": 119, "titleBaseline": "alphabetic"}}}},
{"data": {"name": "gel"}, "transform": [{"filter": "datum.p == 'c'"}], "mark": {"type": "rule", "strokeDash": [2, 2], "color": "#333", "strokeWidth": 1}, "encoding": {"x": {"field": "t", "type": "quantitative"}}},
{"data": {"name": "gel"}, "transform": [{"filter": "datum.p == 'c'"}], "mark": {"type": "text", "align": "right", "baseline": "alphabetic", "dx": -8, "fontSize": 17, "color": "#444"}, "encoding": {"x": {"field": "t", "type": "quantitative"}, "y": {"field": "s", "type": "quantitative"}, "text": {"field": "lab"}}},
{"data": {"name": "gel"}, "transform": [{"filter": "datum.p == 'c'"}], "mark": {"type": "text", "align": "right", "baseline": "alphabetic", "dx": -85, "dy": 5, "fontSize": 12, "fontStyle": "italic", "color": "#444", "text": "gel"}, "encoding": {"x": {"field": "t", "type": "quantitative"}, "y": {"field": "s", "type": "quantitative"}}},
{"data": {"name": "gel"}, "transform": [{"filter": "datum.p == 'c'"}], "mark": {"type": "text", "align": "right", "baseline": "alphabetic", "dx": -101, "fontSize": 17, "fontStyle": "italic", "color": "#444", "text": "t"}, "encoding": {"x": {"field": "t", "type": "quantitative"}, "y": {"field": "s", "type": "quantitative"}}}
]
}
]
}
]
},
{
"spacing": 84, "bounds": "flush",
"hconcat": [
{
"width": 308, "height": 234,
"layer": [
{"data": {"name": "aInt"}, "mark": {"type": "point", "shape": "circle", "filled": false, "size": 36, "strokeWidth": 2, "color": "#6B1442", "opacity": 1, "clip": true},
 "encoding": {
  "x": {"field": "t", "type": "quantitative", "scale": {"domain": [0, 318], "nice": false, "zero": false},
        "axis": {"title": "Time (min)", "values": [0, 50, 100, 150, 200, 250, 300], "tickSize": -5, "labelPadding": 15, "labelFontSize": 12, "titleY": 42, "titleBaseline": "alphabetic"}},
  "y": {"field": "i", "type": "quantitative", "scale": {"type": "log", "domain": [731, 562000], "nice": false},
        "axis": {"title": "<I>ₜ (kcps)", "values": [800, 900, 1000, 2000, 3000, 4000, 5000, 6000, 7000, 8000, 9000, 10000, 20000, 30000, 40000, 50000, 60000, 70000, 80000, 90000, 100000, 200000, 300000, 400000, 500000], "labelExpr": "datum.value == 1000 ? '10³' : datum.value == 10000 ? '10⁴' : datum.value == 100000 ? '10⁵' : ''", "tickSize": {"condition": {"test": "datum.value == 1000 || datum.value == 10000 || datum.value == 100000", "value": -6}, "value": -3}, "labelPadding": 11, "titleX": -42, "titleY": 126, "titleBaseline": "alphabetic"}}}},
{"data": {"name": "gel"}, "transform": [{"filter": "datum.p == 'a'"}], "mark": {"type": "rule", "strokeDash": [2, 2], "color": "#333", "strokeWidth": 1},
 "encoding": {"x": {"field": "t", "type": "quantitative", "axis": {"orient": "top", "values": [50, 100, 150, 200, 250, 300], "labels": false, "title": null, "tickSize": -5}}}}
],
"resolve": {"axis": {"x": "independent"}}
},
{
"spacing": 94, "bounds": "flush",
"hconcat": [
{
"width": 309, "height": 234,
"layer": [
{"data": {"name": "bInt"}, "mark": {"type": "point", "shape": "circle", "filled": false, "size": 36, "strokeWidth": 2, "color": "#6B1442", "opacity": 1, "clip": true},
 "encoding": {
  "x": {"field": "t", "type": "quantitative", "scale": {"domain": [0, 420], "nice": false, "zero": false},
        "axis": {"title": "Time (min)", "values": [0, 50, 100, 150, 200, 250, 300, 350, 400], "tickSize": -5, "labelPadding": 15, "labelFontSize": 12, "titleY": 42, "titleBaseline": "alphabetic"}},
  "y": {"field": "i", "type": "quantitative", "scale": {"type": "log", "domain": [730, 347000], "nice": false},
        "axis": {"title": "<I>ₜ (kcps)", "values": [800, 900, 1000, 2000, 3000, 4000, 5000, 6000, 7000, 8000, 9000, 10000, 20000, 30000, 40000, 50000, 60000, 70000, 80000, 90000, 100000, 200000, 300000], "labelExpr": "datum.value == 1000 ? '10³' : datum.value == 10000 ? '10⁴' : datum.value == 100000 ? '10⁵' : ''", "tickSize": {"condition": {"test": "datum.value == 1000 || datum.value == 10000 || datum.value == 100000", "value": -6}, "value": -3}, "labelPadding": 9, "titleX": -42, "titleY": 127, "titleBaseline": "alphabetic"}}}},
{"data": {"name": "gel"}, "transform": [{"filter": "datum.p == 'b'"}], "mark": {"type": "rule", "strokeDash": [2, 2], "color": "#333", "strokeWidth": 1},
 "encoding": {"x": {"field": "t", "type": "quantitative", "axis": {"orient": "top", "values": [50, 100, 150, 200, 250, 300, 350, 400], "labels": false, "title": null, "tickSize": -5}}}}
],
"resolve": {"axis": {"x": "independent"}}
},
{
"width": 298, "height": 234,
"layer": [
{"data": {"name": "cInt"}, "mark": {"type": "point", "shape": "circle", "filled": false, "size": 36, "strokeWidth": 2, "color": "#6B1442", "opacity": 1, "clip": true},
 "encoding": {
  "x": {"field": "t", "type": "quantitative", "scale": {"domain": [0, 140, 727], "range": [0, 4, 298], "nice": false, "zero": false},
        "axis": {"title": "Time (min)", "values": [0, 200, 300, 400, 500, 600, 700], "tickSize": -5, "labelPadding": 15, "labelFontSize": 12, "titleY": 42, "titleX": 155, "titleBaseline": "alphabetic"}},
  "y": {"field": "i", "type": "quantitative", "scale": {"type": "log", "domain": [2040, 32600], "nice": false},
        "axis": {"title": "<I>ₜ (kcps)", "values": [3000, 4000, 5000, 6000, 7000, 8000, 9000, 10000, 20000, 30000], "labelExpr": "datum.value == 10000 ? '10⁴' : ''", "tickSize": {"condition": {"test": "datum.value == 10000", "value": -6}, "value": -3}, "labelPadding": 9, "titleX": -42, "titleY": 129, "titleBaseline": "alphabetic"}}}},
{"data": {"name": "gel"}, "transform": [{"filter": "datum.p == 'c'"}], "mark": {"type": "rule", "strokeDash": [2, 2], "color": "#333", "strokeWidth": 1},
 "encoding": {"x": {"field": "t", "type": "quantitative", "axis": {"orient": "top", "values": [200, 300, 400, 500, 600, 700], "labels": false, "title": null, "tickSize": -5}}}}
],
"resolve": {"axis": {"x": "independent"}}
}
]
}
]
}
],
"spacing": -1.5,
"config": {
 "font": "Liberation Sans",
 "view": {"stroke": "#333", "strokeWidth": 1.5},
 "axis": {"domain": false, "grid": false, "labelFlush": false, "labelOverlap": false, "tickColor": "#333", "tickWidth": 1.2, "labelColor": "#222", "labelFontSize": 12, "titleFontSize": 21, "titleFontWeight": "normal", "titleColor": "#111", "labelFont": "Liberation Sans", "titleFont": "Liberation Sans"},
 "title": {"font": "Liberation Sans"}
}
}
